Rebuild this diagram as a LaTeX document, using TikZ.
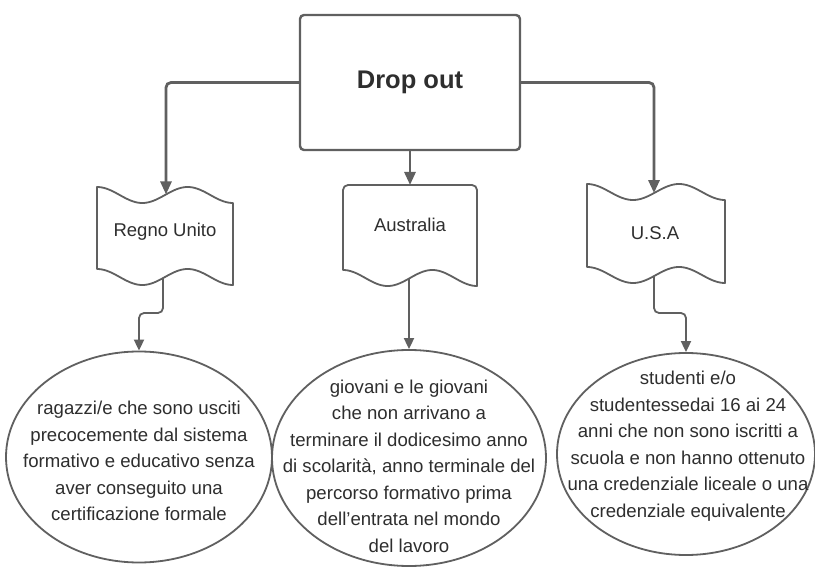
\documentclass[tikz,border=0pt]{standalone}
\usepackage{fontspec}
\setmainfont{Liberation Sans}
\usetikzlibrary{arrows.meta,shapes.geometric,calc}
\definecolor{linegray}{HTML}{606060}
\definecolor{textgray}{HTML}{2E2E2E}

% amplitude of the wavy edges of the tape and document shapes
\newcommand\waveamp{8}
% tape (flag) outline: #1 = left x, #2 = top y, #3 = width, #4 = height
\newcommand\tapeoutline[4]{%
  \draw[shapeline] plot[variable=\t,domain=0:1,samples=61]
      ({#1+#3*\t},{#2+\waveamp*(1-cos(540*\t))})
    -- plot[variable=\t,domain=1:0,samples=61]
      ({#1+#3*\t},{#2+#4+\waveamp*(1-cos(540*\t))}) -- cycle;}

\begin{document}
\begin{tikzpicture}[x=1pt,y=-1pt,
  shapeline/.style={draw=linegray,line width=1.8pt,line join=round},
  bigbox/.style={draw=linegray,line width=2.4pt,rounded corners=4pt,
    minimum width=220pt,minimum height=135pt},
  title/.style={text=textgray,font=\fontsize{25.5}{30}\selectfont\bfseries},
  label/.style={text=textgray,font=\fontsize{18.5}{22}\selectfont},
  desc/.style={text=textgray,font=\fontsize{18.6}{26.5}\selectfont,align=center,inner sep=0pt},
  oval/.style={ellipse,draw=linegray,line width=1.8pt,inner sep=0pt},
  connmain/.style={draw=linegray,line width=2.8pt,rounded corners=5pt,
    -{Triangle[length=13pt,width=11pt]}},
  connsub/.style={draw=linegray,line width=1.8pt,rounded corners=5pt,
    -{Triangle[length=11pt,width=10pt]}}]

\useasboundingbox (0,0) rectangle (815,567);
\fill[white] (0,0) rectangle (815,567);

% top box
\node[bigbox] (drop) at (410,82.5) {};
\node[title] (droptext) at (410,82) {Drop out};

% Regno Unito tape
\tapeoutline{97}{187}{136}{82}
\node[label] (ru) at (165,232) {Regno Unito};
\coordinate (ru-in) at ({166},{187+\waveamp*(1-cos(540/136*(166-97)))});
\coordinate (ru-out) at ({163},{269+\waveamp*(1-cos(540/136*(163-97)))});

% Australia document
\draw[shapeline] [rounded corners=5pt] (343,270) -- (343,185) -- (477,185)
  [sharp corners] -- (477,{270+2*\waveamp})
  -- plot[variable=\t,domain=1:0,samples=61] ({343+134*\t},{270+\waveamp*(1-cos(540*\t))})
  -- cycle;
\node[label] (au) at (410,225) {Australia};
\coordinate (au-in) at (410,185);
\coordinate (au-out) at ({409},{270+\waveamp*(1-cos(540/134*(409-343)))});

% U.S.A tape
\tapeoutline{587}{184}{138}{83}
\node[label] (us) at (655,233) {U.S.A};
\coordinate (us-in) at ({654},{184+\waveamp*(1-cos(540/138*(654-587)))});
\coordinate (us-out) at ({654},{267+\waveamp*(1-cos(540/138*(654-587)))});

% definition ovals
\node[oval,minimum width=266pt,minimum height=211pt] (e1) at (139,457) {};
\node[oval,minimum width=274pt,minimum height=216pt] (e2) at (409,458) {};
\node[oval,minimum width=258pt,minimum height=202pt] (e3) at (686,454) {};

\node[desc] (t1) at (139,461) {ragazzi/e che sono usciti\\precocemente dal sistema\\formativo e educativo senza\\aver conseguito una\\certificazione formale};
\node[desc] (t2) at (409,466) {giovani e le giovani\\che non arrivano a\\terminare il dodicesimo anno\\di scolarità, anno terminale del\\percorso formativo prima\\dell'entrata nel mondo\\del lavoro};
\node[desc] (t3) at (688,446) {studenti e/o\\studentessedai 16 ai 24\\anni che non sono iscritti a\\scuola e non hanno ottenuto\\una credenziale liceale o una\\credenziale equivalente};

% connectors from the top box
\draw[connmain] (drop.west) -| (ru-in);
\draw[connmain] (drop.east) -| (us-in);
\draw[connmain] (drop.south) -- (au-in);

% connectors to the definitions
\draw[connsub] (ru-out) |- (e1.north |- 0,313) -- (e1.north);
\draw[connsub] (au-out) -- (e2.north);
\draw[connsub] (us-out) |- (e3.north |- 0,313) -- (e3.north);
\end{tikzpicture}
\end{document}
